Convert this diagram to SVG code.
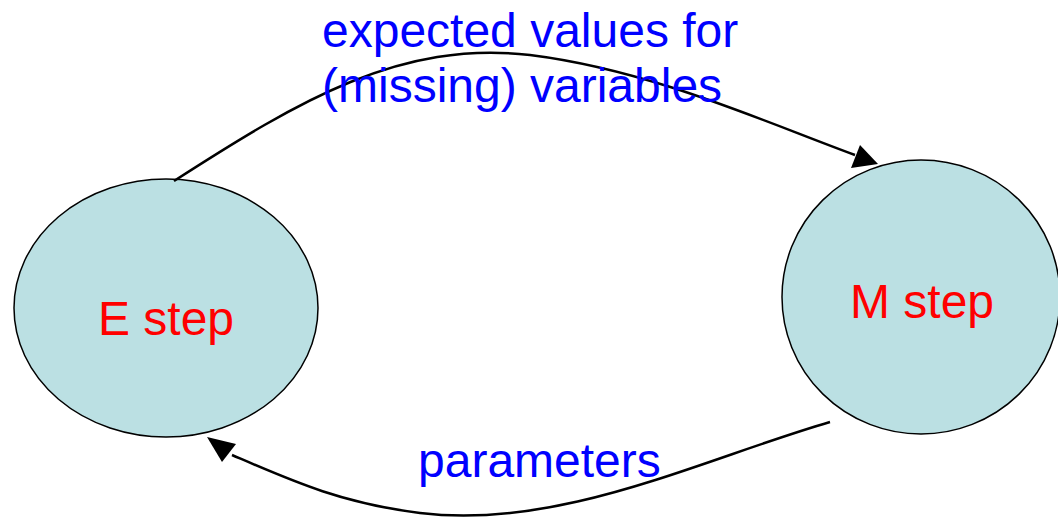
<svg xmlns="http://www.w3.org/2000/svg" width="1058" height="517" viewBox="0 0 1058 517">
<style>
.node{fill:#bbe0e3;stroke:#000;stroke-width:1.5}
.lbl{font-family:"Liberation Sans",Arial,sans-serif;font-size:48px}
.red{fill:#ff0000}
.blue{fill:#0000ff}
.edge{fill:none;stroke:#000;stroke-width:2.5}
</style>
<defs>
<marker id="ah" viewBox="0 0 10 10" refX="10" refY="5" markerWidth="10" markerHeight="9" markerUnits="userSpaceOnUse" orient="auto" style="overflow:visible">
<path d="M0,0 L10,5 L0,10 z" fill="#000"/>
</marker>
</defs>
<g id="e-step">
<ellipse class="node" cx="166" cy="308" rx="152" ry="129"/>
<text class="lbl red" x="166" y="335" text-anchor="middle">E step</text>
</g>
<g id="m-step">
<ellipse class="node" cx="921" cy="297" rx="139" ry="137"/>
<text class="lbl red" x="922" y="318" text-anchor="middle">M step</text>
</g>
<g id="connectors">
<path class="edge" d="M174,181 C300,100 400,40 530,55 C650,70 760,120 855,155"/>
<path d="M878,164 L851,168 L860,145 z" fill="#000"/>
<path class="edge" d="M830,422 C700,460 560,530 420,513 C340,503 290,480 232,455"/>
<path d="M207,437 L236,444 L222,462 z" fill="#000"/>
</g>
<g id="labels">
<text class="lbl blue" x="322" y="47">expected values for</text>
<text class="lbl blue" x="322" y="102">(missing) variables</text>
<text class="lbl blue" x="418" y="477">parameters</text>
</g>
</svg>
